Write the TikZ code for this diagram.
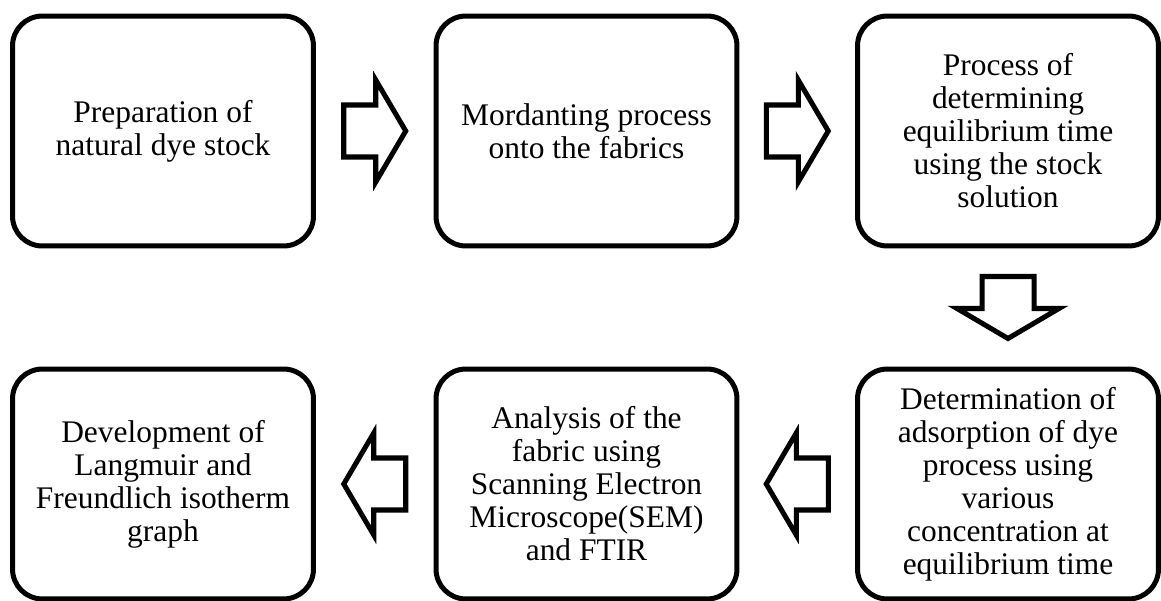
\documentclass[tikz,border=0pt]{standalone}
\usepackage{fontspec}
\setmainfont{Liberation Serif}
\usetikzlibrary{positioning,calc}

\begin{document}
\begin{tikzpicture}[
    x=0.02cm, y=-0.02cm,
    box/.style={draw, rounded corners=17pt, line width=2.85pt, minimum width=6.02cm, minimum height=4.6cm, align=center, font=\fontsize{17.9}{18.8}\selectfont, text=black},
    blk/.style={draw, line width=2.85pt, fill=white, line join=miter},
    blockarrow/.pic={\draw[blk] (-31,-26) -- (1,-26) -- (1,-51) -- (31,0) -- (1,51) -- (1,26) -- (-31,26) -- cycle;},
]
\useasboundingbox (0,0) rectangle (1161,601);

% Top row
\node[box] (prep) at (163,131) {Preparation of\\natural dye stock};
\node[box] (mord) at (586.5,131) {Mordanting process\\onto the fabrics};
\node[box] (equi) at (1008,131) {Process of\\determining\\equilibrium time\\using the stock\\solution};

% Bottom row
\node[box] (adso) at (1008,484) {Determination of\\adsorption of dye\\process using\\various\\concentration at\\equilibrium time};
\node[box] (anal) at (586.5,484) {Analysis of the\\fabric using\\Scanning Electron\\Microscope(SEM)\\and FTIR};
\node[box] (devel) at (163,484) {Development of\\Langmuir and\\Freundlich isotherm\\graph};

% Block arrows between the steps
\pic at ($(prep.east)!0.5!(mord.west)$) {blockarrow};
\pic at ($(mord.east)!0.5!(equi.west)$) {blockarrow};
\pic[rotate=-90] at ($(equi.south)!0.5!(adso.north)$) {blockarrow};
\pic[rotate=180] at ($(adso.west)!0.5!(anal.east)$) {blockarrow};
\pic[rotate=180] at ($(anal.west)!0.5!(devel.east)$) {blockarrow};
\end{tikzpicture}
\end{document}
